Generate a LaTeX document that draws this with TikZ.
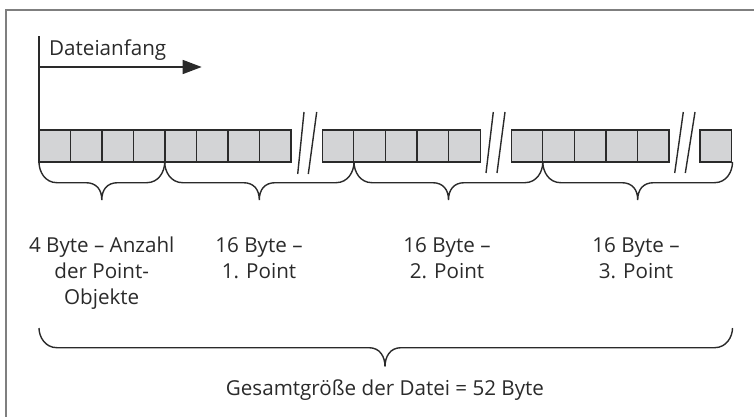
\documentclass[tikz,border=0pt]{standalone}
\usepackage{fontspec}
\setmainfont{Open Sans}
\usetikzlibrary{arrows.meta}
\definecolor{ink}{HTML}{2A2A2A}
\definecolor{cellfill}{HTML}{D3D4D6}
\definecolor{framegray}{HTML}{7F7F7F}
\newcommand\bracepath[6]{%
 (#1,#4) .. controls (#1,#5-11) and (#1+6,#5) .. (#1+18,#5) -- (#2-16,#5)
 .. controls (#2-5,#5) and (#2,#6-10) .. (#2,#6)
 .. controls (#2,#6-10) and (#2+5,#5) .. (#2+16,#5) -- (#3-18,#5)
 .. controls (#3-6,#5) and (#3,#5-11) .. (#3,#4)}
\begin{document}
\begin{tikzpicture}[x=1pt,y=-1pt,
  cell/.style={draw=ink, fill=cellfill, line width=1.1pt, minimum width=31.5pt,
    minimum height=32pt, inner sep=0pt, outer sep=0pt, anchor=north west},
  stroke/.style={draw=ink, line width=1.4pt},
  lbl/.style={text=ink, font=\fontsize{20.6}{26}\selectfont, align=center, anchor=base, inner sep=0pt}]
\useasboundingbox (0,0) rectangle (754,417);
\draw[framegray, line width=1.5pt] (6,417) -- (6,10) -- (754,10);
% cells
\foreach \i in {0,...,7} \node[cell] (a\i) at ({39+31.5*\i},130) {};
\foreach \i in {0,...,4} \node[cell] (b\i) at ({322.3+31.6*\i},130) {};
\foreach \i in {0,...,4} \node[cell] (c\i) at ({511.3+31.55*\i},130) {};
\node[cell] (d0) at (700,130) {};
% break marks
\draw[stroke] (297.7,174) -- (304,112);
\draw[stroke] (308.3,174) -- (316.7,112);
\draw[stroke] (486,173) -- (493.3,112);
\draw[stroke] (497,173) -- (505,112);
\draw[stroke] (674.7,173) -- (683.3,112);
\draw[stroke] (685.3,173) -- (695,112);
% braces
\draw[stroke] \bracepath{39}{101.8}{164.7}{162}{182.7}{200};
\draw[stroke] \bracepath{164.7}{259.3}{354}{162}{182.7}{200};
\draw[stroke] \bracepath{354}{448.5}{542.8}{162}{182.7}{200};
\draw[stroke] \bracepath{542.8}{637.7}{732.5}{162}{182.7}{200};
\draw[stroke] \bracepath{39}{385}{732.5}{328}{347.7}{366.7};
% start marker
\coordinate (top) at (39,36.5);
\draw[stroke] (top) -- (a0.north west);
\coordinate (arrs) at (39,67);
\coordinate (arre) at (201.7,67);
\draw[stroke, -{Triangle[length=19pt,width=14pt]}] (arrs) -- (arre);
\node[lbl, anchor=base west] (start) at (49,55.5) {Dateianfang};
% labels (base anchor = last line's baseline)
\node[lbl] (l1) at (101.7,304.7) {4 Byte – Anzahl\\der Point-\\Objekte};
\node[lbl] (l2) at (259,278.7) {16 Byte –\\1. Point};
\node[lbl] (l3) at (447,278.7) {16 Byte –\\2. Point};
\node[lbl] (l4) at (636,278.7) {16 Byte –\\3. Point};
\node[lbl] (tot) at (385,395) {Gesamtgröße der Datei = 52 Byte};
\end{tikzpicture}
\end{document}
